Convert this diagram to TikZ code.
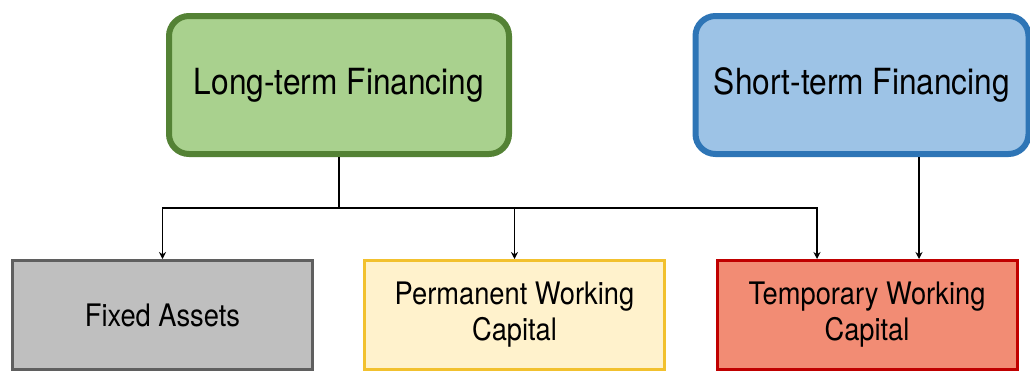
\documentclass[tikz,border=0pt]{standalone}
\usepackage{fontspec}
\setmainfont[FakeStretch=0.88]{TeX Gyre Heros}
\usepackage{tikz}
\usetikzlibrary{arrows.meta}
\definecolor{ltfill}{HTML}{A9D18E}
\definecolor{ltline}{HTML}{548235}
\definecolor{stfill}{HTML}{9DC3E6}
\definecolor{stline}{HTML}{2E75B6}
\definecolor{fafill}{HTML}{BFBFBF}
\definecolor{faline}{HTML}{5F5F5F}
\definecolor{pwfill}{HTML}{FFF2CC}
\definecolor{pwline}{HTML}{F2C12E}
\definecolor{twfill}{HTML}{F28C74}
\definecolor{twline}{HTML}{C00000}
\tikzset{
  font={\fontsize{31pt}{36pt}\selectfont},
  topbox/.style={draw, line width=6pt, rounded corners=20pt, minimum width=340pt,
    minimum height=138pt, font={\fontsize{36pt}{40pt}\selectfont}},
  capbox/.style={draw, line width=3pt, minimum width=300pt, minimum height=109pt,
    align=center},
  link/.style={line width=1.2pt, -{Stealth[length=7pt,width=7pt]}}}

\begin{document}
\begin{tikzpicture}[x=1pt,y=1pt]
\useasboundingbox (0,0) rectangle (1030,-370);
\clip (0,0) rectangle (1030,-370);
\node [topbox, fill=ltfill, draw=ltline] (longterm) at (339,-85) {Long-term Financing};
\node [topbox, fill=stfill, draw=stline, minimum width=333pt] (shortterm) at (862,-85) {Short-term Financing};
\node [capbox, fill=fafill, draw=faline] (fixed) at (162.5,-315) {Fixed Assets};
\node [capbox, fill=pwfill, draw=pwline] (permwc) at (514.5,-315) {Permanent Working\\Capital};
\node [capbox, fill=twfill, draw=twline] (tempwc) at (867,-315) {Temporary Working\\Capital};
\coordinate (split) at (339,-208);
\coordinate (tosplit) at (817,-208);
\draw [line width=1.2pt] (longterm.south) -- (split);
\draw [link] (split) -| (fixed.north);
\draw [link] (split) -| (permwc.north);
\draw [link] (split) -| (tosplit) -- (tempwc.north -| tosplit);
\draw [link] (shortterm.south -| 919,0) -- (tempwc.north -| 919,0);
\end{tikzpicture}
\end{document}
